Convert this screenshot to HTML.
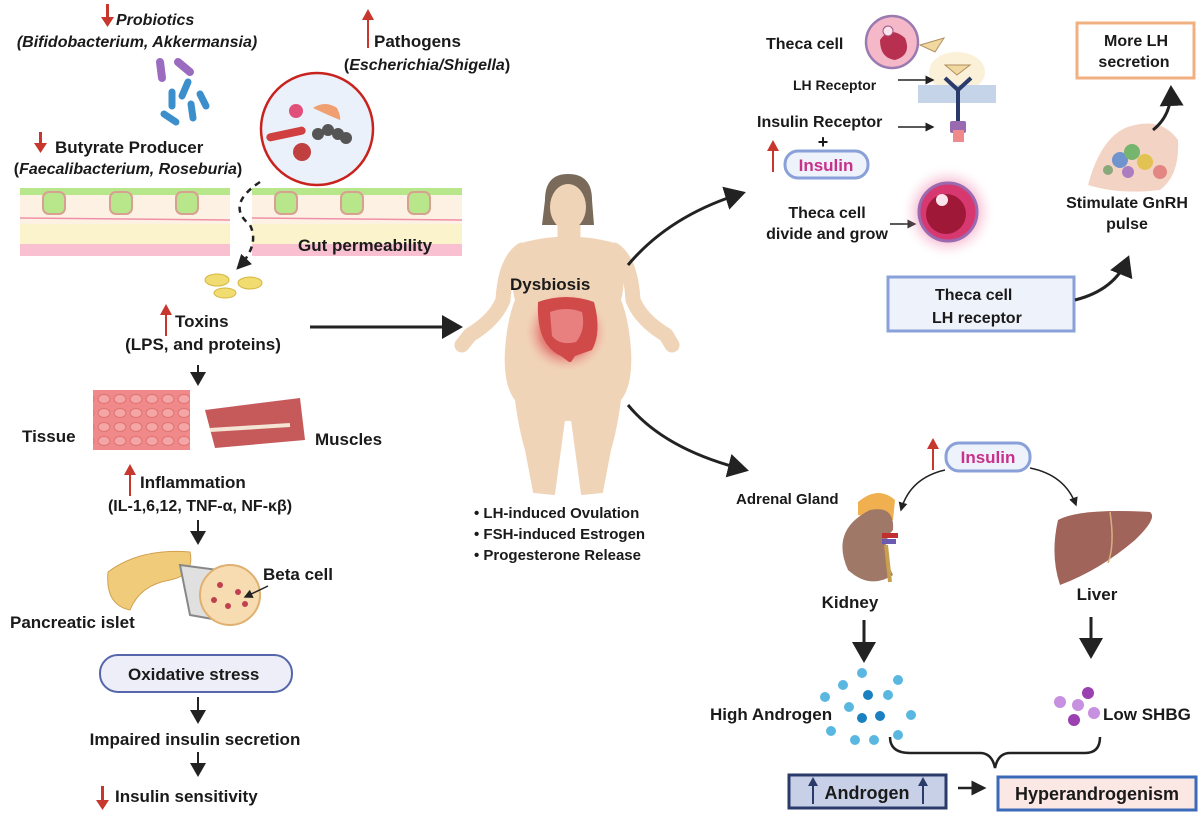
<!DOCTYPE html>
<html><head><meta charset="utf-8"><style>
body{margin:0;background:#fff}
svg{display:block}
text{font-family:"Liberation Sans",sans-serif;font-weight:bold;fill:#1a1a1a}
</style></head><body>
<svg width="1200" height="822" viewBox="0 0 1200 822" xmlns="http://www.w3.org/2000/svg">
<defs>
<marker id="ah" markerWidth="8" markerHeight="8" refX="6" refY="4" orient="auto" markerUnits="strokeWidth"><path d="M0,0 L7,4 L0,8z" fill="#222"/></marker>
<marker id="ahs" markerWidth="6" markerHeight="6" refX="5" refY="3" orient="auto" markerUnits="strokeWidth"><path d="M0,0 L6,3 L0,6z" fill="#222"/></marker>
<radialGradient id="glow"><stop offset="55%" stop-color="#e8508a"/><stop offset="100%" stop-color="#fff" stop-opacity="0"/></radialGradient>
<radialGradient id="gutg"><stop offset="60%" stop-color="#e06060"/><stop offset="100%" stop-color="#f4c0b0" stop-opacity="0"/></radialGradient>
<pattern id="hex" width="16" height="14" patternUnits="userSpaceOnUse"><rect width="16" height="14" fill="#f08a8a"/><ellipse cx="8" cy="7" rx="6" ry="4.5" fill="#f4a6a6" stroke="#e07070"/></pattern>
</defs>
<g fill="#c8372d">
<path d="M106 4v13h-5l6.5 10 6.5-10h-5V4z"/>
<path d="M367 48V20h-5l6-11 6 11h-5v28z"/>
<path d="M39 132v11h-5l6.5 10 6.5-10h-5v-11z"/>
<path d="M287 222v21h-5l6.5 11 6.5-11h-5v-21z"/>
<path d="M165 336v-21h-5l6-11 6 11h-5v21z"/>
<path d="M129 496v-21h-5l6-11 6 11h-5v21z"/>
<path d="M120 690v-21h-5l6-11 6 11h-5v21z"/>
<path d="M101 786v14h-5l6.5 10 6.5-10h-5v-14z"/>
<path d="M772 172v-21h-5l6-11 6 11h-5v21z"/>
<path d="M932 470v-21h-5l6-11 6 11h-5v21z"/>
<path d="M1032 302v-12h-5l6-10 6 10h-5v12z"/>
<path d="M1042 326v-12h-5l6-10 6 10h-5v12z"/>
</g>
<text x="116" y="25" font-size="16" font-style="italic">Probiotics</text>
<text x="137" y="47" font-size="16" font-style="italic" text-anchor="middle">(Bifidobacterium, Akkermansia)</text>
<text x="374" y="47" font-size="17">Pathogens</text>
<text x="427" y="70" font-size="16" text-anchor="middle">(<tspan font-style="italic">Escherichia/Shigella</tspan>)</text>
<g stroke-linecap="round">
<line x1="160" y1="62" x2="162" y2="78" stroke="#9b6bc0" stroke-width="8"/>
<line x1="178" y1="62" x2="190" y2="72" stroke="#9b6bc0" stroke-width="8"/>
<line x1="172" y1="92" x2="172" y2="106" stroke="#3d8fcc" stroke-width="7"/>
<line x1="188" y1="82" x2="182" y2="96" stroke="#3d8fcc" stroke-width="7"/>
<line x1="200" y1="94" x2="206" y2="106" stroke="#3d8fcc" stroke-width="7"/>
<line x1="191" y1="104" x2="193" y2="118" stroke="#3d8fcc" stroke-width="7"/>
<line x1="164" y1="114" x2="176" y2="122" stroke="#3d8fcc" stroke-width="7"/>
</g>
<text x="55" y="153" font-size="17">Butyrate Producer</text>
<text x="128" y="174" font-size="16" text-anchor="middle">(<tspan font-style="italic">Faecalibacterium, Roseburia</tspan>)</text>
<circle cx="317" cy="129" r="56" fill="#eaf1fa" stroke="#c8231e" stroke-width="2.5"/>
<circle cx="296" cy="111" r="7" fill="#e0507a"/>
<path d="M313 108q12-8 24 0q4 8 3 12q-10-4-27-12z" fill="#f0a070"/>
<rect x="266" y="130" width="40" height="8" rx="4" fill="#d04040" transform="rotate(-12 286 134)"/>
<circle cx="318" cy="134" r="6" fill="#555"/><circle cx="328" cy="130" r="6" fill="#555"/><circle cx="338" cy="134" r="6" fill="#555"/><circle cx="346" cy="138" r="6" fill="#555"/>
<circle cx="302" cy="152" r="9" fill="#c04040"/>
<g>
<rect x="20" y="188" width="210" height="68" fill="#fdf1e4"/>
<rect x="20" y="224" width="210" height="22" fill="#fbf3cc"/>
<rect x="20" y="244" width="210" height="12" fill="#f8c0d0"/>
<rect x="20" y="188" width="210" height="7" fill="#b8e68a"/>
<rect x="252" y="188" width="210" height="68" fill="#fdf1e4"/>
<rect x="252" y="224" width="210" height="22" fill="#fbf3cc"/>
<rect x="252" y="244" width="210" height="12" fill="#f8c0d0"/>
<rect x="252" y="188" width="210" height="7" fill="#b8e68a"/>
<g fill="#b8e68a" stroke="#d8a090" stroke-width="2">
<rect x="43" y="192" width="22" height="22" rx="6"/><rect x="110" y="192" width="22" height="22" rx="6"/><rect x="176" y="192" width="22" height="22" rx="6"/>
<rect x="275" y="192" width="22" height="22" rx="6"/><rect x="341" y="192" width="22" height="22" rx="6"/><rect x="408" y="192" width="22" height="22" rx="6"/>
</g>
<line x1="20" y1="218" x2="230" y2="220" stroke="#f090a8" stroke-width="1.5"/>
<line x1="252" y1="218" x2="462" y2="220" stroke="#f090a8" stroke-width="1.5"/>
</g>
<path d="M260 182 Q225 205 250 225 Q260 245 238 268" fill="none" stroke="#222" stroke-width="2.5" stroke-dasharray="6 5" marker-end="url(#ahs)"/>
<text x="298" y="251" font-size="17">Gut permeability</text>
<g fill="#f0dc70" stroke="#d4b840"><ellipse cx="217" cy="280" rx="12" ry="6"/><ellipse cx="250" cy="283" rx="12" ry="6"/><ellipse cx="225" cy="293" rx="11" ry="5"/></g>
<text x="175" y="327" font-size="17">Toxins</text>
<text x="203" y="350" font-size="17" text-anchor="middle">(LPS, and proteins)</text>
<line x1="310" y1="327" x2="460" y2="327" stroke="#222" stroke-width="3" marker-end="url(#ah)"/>
<line x1="198" y1="365" x2="198" y2="384" stroke="#222" stroke-width="2" marker-end="url(#ah)"/>
<rect x="93" y="390" width="97" height="60" fill="url(#hex)"/>
<path d="M205 410 L300 398 L305 440 L215 448 Z" fill="#c65a5a"/>
<path d="M210 430 L290 425" stroke="#f4e4d4" stroke-width="4"/>
<text x="22" y="442" font-size="17">Tissue</text>
<text x="315" y="445" font-size="17">Muscles</text>
<text x="140" y="488" font-size="17">Inflammation</text>
<text x="200" y="511" font-size="16" text-anchor="middle">(IL-1,6,12, TNF-α, NF-κβ)</text>
<line x1="198" y1="520" x2="198" y2="543" stroke="#222" stroke-width="2" marker-end="url(#ah)"/>
<path d="M108 572 Q140 548 190 552 Q195 575 170 580 Q140 585 130 610 Q105 605 108 572z" fill="#f0cc7a" stroke="#d0a050"/>
<path d="M180 565 L218 570 L218 620 L190 615z" fill="#e0e0e0" stroke="#888" stroke-width="2"/>
<circle cx="230" cy="595" r="30" fill="#f6dcb0" stroke="#e0b070" stroke-width="2"/>
<g fill="#c04050"><circle cx="220" cy="585" r="3"/><circle cx="238" cy="592" r="3"/><circle cx="228" cy="606" r="3"/><circle cx="245" cy="604" r="3"/><circle cx="214" cy="600" r="3"/></g>
<text x="263" y="580" font-size="17">Beta cell</text>
<line x1="268" y1="586" x2="245" y2="597" stroke="#222" stroke-width="1.5" marker-end="url(#ahs)"/>
<text x="10" y="628" font-size="17">Pancreatic islet</text>
<rect x="100" y="655" width="192" height="37" rx="18" fill="#eeeef8" stroke="#5566aa" stroke-width="2"/>
<text x="128" y="680" font-size="17">Oxidative stress</text>
<line x1="198" y1="697" x2="198" y2="722" stroke="#222" stroke-width="2" marker-end="url(#ah)"/>
<text x="195" y="745" font-size="17" text-anchor="middle">Impaired insulin secretion</text>
<line x1="198" y1="752" x2="198" y2="775" stroke="#222" stroke-width="2" marker-end="url(#ah)"/>
<text x="115" y="802" font-size="17">Insulin sensitivity</text>
<!-- woman -->
<g fill="#f0d4b8" stroke="#f0d4b8" stroke-linejoin="round">
<path d="M522 250 Q505 262 503 300 Q495 320 470 335 L462 345" fill="none" stroke-width="15" stroke-linecap="round"/>
<path d="M614 250 Q631 262 633 300 Q641 320 666 335 L672 345" fill="none" stroke-width="15" stroke-linecap="round"/>
<path d="M525 243 Q568 232 611 243 Q628 270 620 300 Q628 320 630 350 Q632 385 620 400 Q616 430 610 450 L602 492 L582 494 L572 420 L564 420 L554 494 L534 492 L526 450 Q520 430 516 400 Q504 385 506 350 Q508 320 516 300 Q508 270 525 243z" stroke-width="2"/>
<rect x="558" y="222" width="22" height="22"/>
</g>
<path d="M545 200 Q545 174 568 174 Q592 174 592 200 L594 225 L542 225z" fill="#7a6a5a"/>
<ellipse cx="568" cy="207" rx="18" ry="23" fill="#f0d4b8"/>
<ellipse cx="566" cy="332" rx="42" ry="40" fill="url(#gutg)" opacity="0.7"/>
<path d="M538 302 Q566 292 594 302 Q602 332 592 350 L575 356 L571 362 L569 362 L561 356 Q536 345 538 302z" fill="#d04a4a"/>
<path d="M550 312 Q566 306 582 312 Q586 330 576 342 Q560 346 552 336z" fill="#e88080"/>
<text x="510" y="290" font-size="17">Dysbiosis</text>
<g font-size="15"><text x="474" y="518">•  LH-induced Ovulation</text><text x="474" y="539">•  FSH-induced Estrogen</text><text x="474" y="560">•  Progesterone Release</text></g>
<path d="M628 265 Q670 215 743 193" fill="none" stroke="#222" stroke-width="3" marker-end="url(#ah)"/>
<path d="M628 405 Q665 450 746 470" fill="none" stroke="#222" stroke-width="3" marker-end="url(#ah)"/>
<!-- top right -->
<text x="766" y="49" font-size="16">Theca cell</text>
<circle cx="892" cy="42" r="26" fill="#f4b8c8" stroke="#9a7ab0" stroke-width="2.5"/>
<path d="M880 40 Q890 25 905 38 Q912 55 895 60 Q880 58 880 40z" fill="#b83050"/>
<circle cx="888" cy="31" r="5" fill="#fbe4ec" stroke="#a05080"/>
<path d="M920 45 L944 38 L935 52z" fill="#f0d8a0" stroke="#b09060"/>
<ellipse cx="957" cy="72" rx="28" ry="20" fill="#fbf0d8"/>
<path d="M945 65 L970 65 L957 75z" fill="#f0d8a0" stroke="#b09060"/>
<rect x="918" y="85" width="78" height="18" fill="#c6d4ea"/>
<path d="M945 78 L958 90 L971 78 M958 90 V122" stroke="#2a3a6a" stroke-width="4" fill="none"/>
<rect x="950" y="121" width="16" height="12" rx="2" fill="#9a6ab0"/><rect x="953" y="130" width="11" height="12" fill="#f08a8a"/>
<text x="793" y="90" font-size="14">LH Receptor</text>
<line x1="898" y1="80" x2="933" y2="80" stroke="#222" stroke-width="1.5" marker-end="url(#ahs)"/>
<text x="757" y="127" font-size="16">Insulin Receptor</text>
<line x1="898" y1="127" x2="933" y2="127" stroke="#222" stroke-width="1.5" marker-end="url(#ahs)"/>
<text x="823" y="148" font-size="18" text-anchor="middle">+</text>
<rect x="785" y="151" width="83" height="27" rx="13" fill="#eef2fb" stroke="#8aa0d8" stroke-width="3"/>
<text x="826" y="171" font-size="17" text-anchor="middle" style="fill:#c8308a">Insulin</text>
<text x="827" y="218" font-size="16" text-anchor="middle">Theca cell</text>
<text x="827" y="239" font-size="16" text-anchor="middle">divide and grow</text>
<line x1="890" y1="224" x2="915" y2="224" stroke="#222" stroke-width="1.5" marker-end="url(#ahs)"/>
<circle cx="948" cy="212" r="48" fill="url(#glow)" opacity="0.45"/>
<circle cx="948" cy="212" r="29" fill="#d83870" stroke="#9a6ab0" stroke-width="3"/>
<circle cx="946" cy="214" r="20" fill="#a01838"/>
<circle cx="942" cy="200" r="6" fill="#fbe4ec"/>
<rect x="888" y="277" width="186" height="54" fill="#eef2fb" stroke="#8aa0d8" stroke-width="3"/>
<text x="935" y="300" font-size="16">Theca cell</text>
<text x="932" y="323" font-size="16">LH receptor</text>
<path d="M1075 300 Q1115 290 1128 258" fill="none" stroke="#222" stroke-width="3" marker-end="url(#ah)"/>
<path d="M1088 185 Q1100 140 1125 128 Q1160 115 1178 140 Q1180 175 1160 190 Q1120 195 1088 185z" fill="#f3d4c4"/>
<g opacity="0.85"><circle cx="1120" cy="160" r="8" fill="#5a8ad0"/><circle cx="1132" cy="152" r="8" fill="#60b060"/><circle cx="1145" cy="162" r="8" fill="#e0c040"/><circle cx="1128" cy="172" r="6" fill="#a070c0"/><circle cx="1108" cy="170" r="5" fill="#7aa070"/><circle cx="1160" cy="172" r="7" fill="#e07a7a"/></g>
<text x="1127" y="208" font-size="16" text-anchor="middle">Stimulate GnRH</text>
<text x="1127" y="229" font-size="16" text-anchor="middle">pulse</text>
<path d="M1153 130 Q1172 115 1171 88" fill="none" stroke="#222" stroke-width="3" marker-end="url(#ah)"/>
<rect x="1077" y="23" width="117" height="55" fill="#fff" stroke="#f0b080" stroke-width="3"/>
<text x="1136" y="46" font-size="16" text-anchor="middle">More  LH</text>
<text x="1134" y="67" font-size="16" text-anchor="middle">secretion</text>
<!-- bottom right -->
<rect x="946" y="443" width="84" height="28" rx="13" fill="#eef2fb" stroke="#8aa0d8" stroke-width="3"/>
<text x="988" y="463" font-size="17" text-anchor="middle" style="fill:#c8308a">Insulin</text>
<path d="M945 470 Q910 478 901 510" fill="none" stroke="#222" stroke-width="1.5" marker-end="url(#ahs)"/>
<path d="M1030 468 Q1065 475 1076 505" fill="none" stroke="#222" stroke-width="1.5" marker-end="url(#ahs)"/>
<text x="736" y="504" font-size="15">Adrenal Gland</text>
<path d="M858 502 Q878 485 895 500 L893 520 L858 515z" fill="#f0b050"/>
<path d="M870 510 Q895 505 893 530 Q878 545 893 575 Q870 590 848 570 Q830 530 870 510z" fill="#a07868"/>
<rect x="882" y="533" width="16" height="5" fill="#c03030"/><rect x="882" y="539" width="14" height="5" fill="#6a5ab0"/>
<path d="M886 545 L890 582" stroke="#c8a050" stroke-width="4"/>
<text x="850" y="608" font-size="17" text-anchor="middle">Kidney</text>
<path d="M1058 520 Q1080 508 1150 512 Q1158 518 1135 540 Q1100 570 1060 585 Q1050 555 1058 520z" fill="#a0645a"/>
<path d="M1110 512 Q1115 545 1108 563" stroke="#d8b080" stroke-width="1.5" fill="none"/>
<text x="1097" y="600" font-size="17" text-anchor="middle">Liver</text>
<line x1="864" y1="620" x2="864" y2="660" stroke="#222" stroke-width="3" marker-end="url(#ah)"/>
<line x1="1091" y1="617" x2="1091" y2="656" stroke="#222" stroke-width="3" marker-end="url(#ah)"/>
<g fill="#5ab8e0"><circle cx="862" cy="673" r="5"/><circle cx="843" cy="685" r="5"/><circle cx="898" cy="680" r="5"/><circle cx="825" cy="697" r="5"/><circle cx="888" cy="695" r="5"/><circle cx="849" cy="707" r="5"/><circle cx="911" cy="715" r="5"/><circle cx="831" cy="731" r="5"/><circle cx="855" cy="740" r="5"/><circle cx="874" cy="740" r="5"/><circle cx="898" cy="735" r="5"/></g>
<g fill="#1a80c0"><circle cx="868" cy="695" r="5"/><circle cx="862" cy="718" r="5"/><circle cx="880" cy="716" r="5"/></g>
<g fill="#c890e0"><circle cx="1060" cy="702" r="6"/><circle cx="1078" cy="705" r="6"/><circle cx="1094" cy="713" r="6"/></g>
<g fill="#9a40b0"><circle cx="1088" cy="693" r="6"/><circle cx="1074" cy="720" r="6"/></g>
<text x="710" y="720" font-size="17">High Androgen</text>
<text x="1103" y="720" font-size="17">Low SHBG</text>
<path d="M890 737 Q890 753 910 753 L980 753 Q992 753 995 768 Q998 753 1010 753 L1085 753 Q1100 753 1100 737" fill="none" stroke="#222" stroke-width="2.5"/>
<rect x="789" y="775" width="157" height="33" fill="#c8d0e8" stroke="#2a3a6a" stroke-width="3"/>
<path d="M812 804v-18h-4l5-9 5 9h-4v18z" fill="#2a3a6a"/>
<path d="M922 804v-18h-4l5-9 5 9h-4v18z" fill="#2a3a6a"/>
<text x="867" y="799" font-size="18" text-anchor="middle">Androgen</text>
<line x1="958" y1="788" x2="984" y2="788" stroke="#222" stroke-width="2.5" marker-end="url(#ahs)"/>
<rect x="998" y="777" width="198" height="33" fill="#fbe8e4" stroke="#3a6ab8" stroke-width="3"/>
<text x="1097" y="800" font-size="18" text-anchor="middle">Hyperandrogenism</text>
</svg>
</body></html>
